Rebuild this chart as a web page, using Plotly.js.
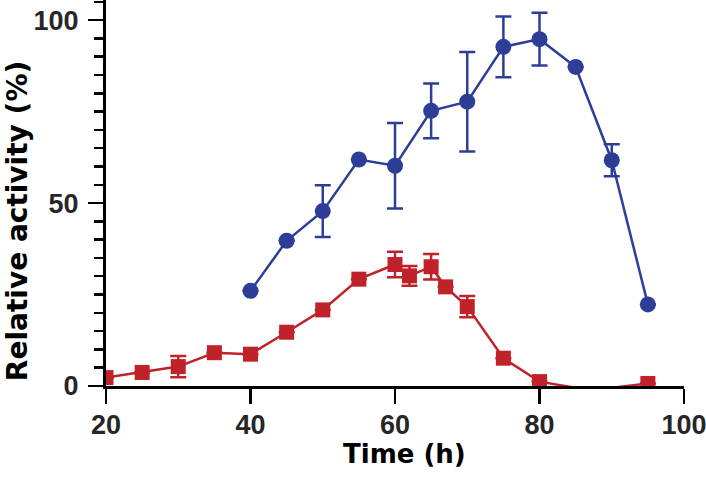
<!DOCTYPE html>
<html>
<head>
<meta charset="utf-8">
<script src="https://cdn.plot.ly/plotly-3.0.1.min.js"></script>
<style>html,body{margin:0;padding:0;background:#fff}#chart{width:706px;height:478px}</style>
</head>
<body>
<div id="chart"></div>
<script>
// Blue series (circles)
const blueTime = [40, 45, 50, 55, 60, 65, 70, 75, 80, 85, 90, 95];
const blueActivity = [26.0, 39.7, 47.8, 61.9, 60.2, 75.2, 77.7, 92.7, 94.8, 87.2, 61.7, 22.3];
const blueError = [0, 0, 7.1, 0, 11.7, 7.5, 13.6, 8.3, 7.2, 0, 4.4, 0];

// Red series (squares)
const redTime = [20, 25, 30, 35, 40, 45, 50, 55, 60, 62, 65, 67, 70, 75, 80, 85, 90, 95];
const redActivity = [2.3, 3.7, 5.3, 9.1, 8.7, 14.7, 20.8, 29.2, 33.2, 30.1, 32.6, 27.1, 21.7, 7.6, 1.2, -0.5, -0.5, 0.7];
const redError = [0, 0, 2.9, 0, 0, 0, 0, 0, 3.5, 2.7, 3.5, 0, 2.9, 0, 0, 0, 0, 0];

const xTickVals = [20, 40, 60, 80, 100];
const xTickText = ['20', '40', '60', '80', '100'];
const yTickVals = [0, 50, 100];
const yTickText = ['0', '50', '100'];
const xTitle = 'Time (h)';
const yTitle = 'Relative activity (%)';

const blue = '#2D3E98';
const red = '#BF222B';

// points below the axis minimum are not drawn (as in the original)
const sizeFor = (vals, s) => vals.map(v => (v < 0 ? 0 : s));

const traces = [
  {
    x: blueTime, y: blueActivity, type: 'scatter', mode: 'lines+markers',
    line: {color: blue, width: 2.5},
    marker: {symbol: 'circle', size: 16, color: blue, opacity: 1, line: {width: 0}},
    error_y: {type: 'data', array: blueError, visible: true, color: blue, thickness: 2.5, width: 8},
    showlegend: false
  },
  {
    x: redTime, y: redActivity, type: 'scatter', mode: 'lines+markers',
    line: {color: red, width: 2.5},
    marker: {symbol: 'square', size: sizeFor(redActivity, 15), color: red, opacity: 1, line: {width: 0}},
    error_y: {type: 'data', array: redError, visible: true, color: red, thickness: 2.5, width: 8},
    showlegend: false
  }
];

const tickFont = {family: 'Liberation Sans, Arial, sans-serif', size: 27, color: '#262626', weight: 'bold'};

const layout = {
  width: 706, height: 478,
  margin: {l: 106, r: 22, t: 0, b: 92},
  paper_bgcolor: '#fff', plot_bgcolor: '#fff',
  xaxis: {
    range: [20, 100], tickvals: xTickVals, ticktext: xTickText,
    showgrid: false, zeroline: false,
    showline: true, linecolor: '#000', linewidth: 3,
    ticks: 'outside', ticklen: 15, tickwidth: 2.5, tickcolor: '#000',
    ticklabeloverflow: 'allow', ticklabelstandoff: -2,
    tickfont: tickFont
  },
  yaxis: {
    range: [0, 105.5], tickvals: yTickVals, ticktext: yTickText,
    showgrid: false, zeroline: false,
    showline: true, linecolor: '#000', linewidth: 3,
    ticks: 'outside', ticklen: 15, tickwidth: 2.5, tickcolor: '#000',
    minor: {dtick: 5, tick0: 0, ticks: 'outside', ticklen: 9, tickwidth: 2.5, tickcolor: '#000', showgrid: false},
    ticklabelstandoff: 4,
    tickfont: tickFont
  },
  annotations: [
    {
      text: '<b>' + xTitle + '</b>', xref: 'paper', yref: 'paper',
      x: 0.5156, y: -0.132, xanchor: 'center', yanchor: 'top', showarrow: false,
      font: {family: 'DejaVu Sans, sans-serif', size: 26, color: '#000'}
    },
    {
      text: '<b>' + yTitle + '</b>', xref: 'paper', yref: 'paper', textangle: -90,
      x: -0.153, y: 0.426, xanchor: 'center', yanchor: 'middle', showarrow: false,
      font: {family: 'DejaVu Sans, sans-serif', size: 28, color: '#000'}
    }
  ]
};

Plotly.newPlot('chart', traces, layout, {displayModeBar: false, staticPlot: true});
</script>
</body>
</html>
